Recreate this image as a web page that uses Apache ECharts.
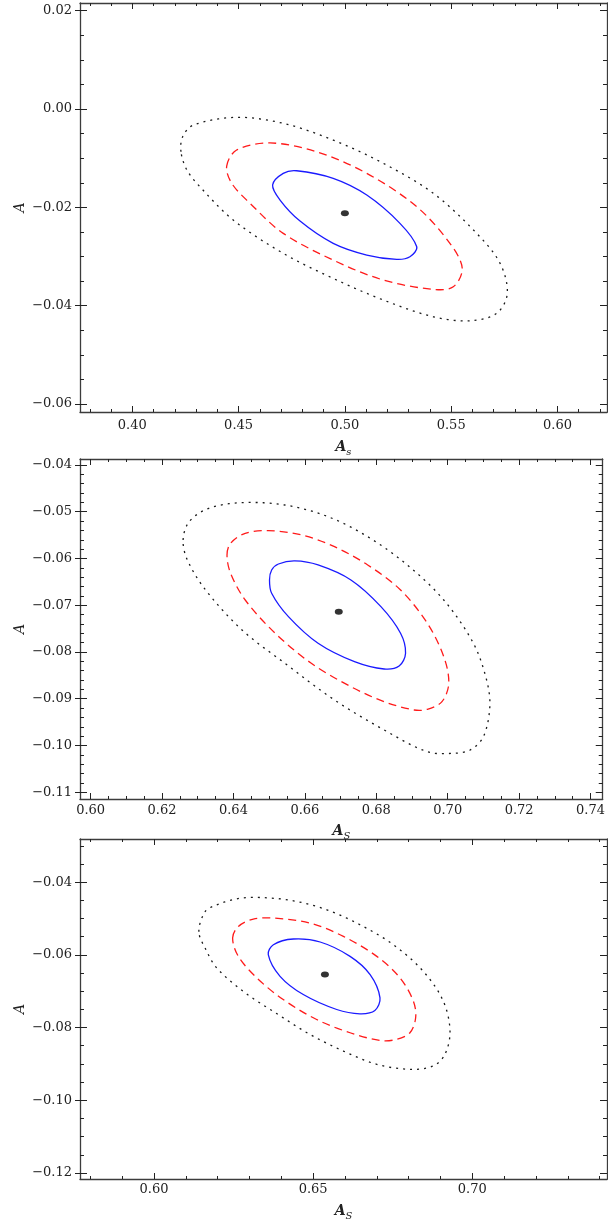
<!DOCTYPE html>
<html>
<head>
<meta charset="utf-8">
<script src="https://cdn.jsdelivr.net/npm/echarts@6/dist/echarts.min.js"></script>
<style>
  html, body { margin: 0; padding: 0; background: #fff; }
  #chart { width: 608px; height: 1222px; }
</style>
</head>
<body>
<div id="chart"></div>
<script>
// ---- panel 1 ----
var p1XTicks = [0.40, 0.45, 0.50, 0.55, 0.60];
var p1YTicks = [0.02, 0.00, -0.02, -0.04, -0.06];
var p1Best = [[0.500, -0.0212]];
var p1Sigma1 = [[0.4660,-0.01546],[0.4710,-0.01308],[0.4773,-0.01255],[0.4945,-0.0141],[0.5103,-0.0175],[0.5259,-0.02325],[0.5338,-0.02802],[0.5306,-0.03005],[0.5244,-0.03058],[0.5103,-0.0297],[0.4945,-0.02732],[0.4789,-0.02279],[0.4695,-0.01851]];
var p1Sigma2 = [[0.4444,-0.0116],[0.4491,-0.00834],[0.4648,-0.0069],[0.4867,-0.00869],[0.5103,-0.01308],[0.5338,-0.01988],[0.5494,-0.02732],[0.5552,-0.0324],[0.5510,-0.03615],[0.5416,-0.03668],[0.5181,-0.03479],[0.4945,-0.03072],[0.4710,-0.02529],[0.4554,-0.01919],[0.4468,-0.01512]];
var p1Sigma3 = [[0.4229,-0.00869],[0.4237,-0.00563],[0.4287,-0.00326],[0.4491,-0.00169],[0.4710,-0.00291],[0.4945,-0.00631],[0.5181,-0.01105],[0.5416,-0.01715],[0.5620,-0.02529],[0.5730,-0.03139],[0.5764,-0.0375],[0.5714,-0.04157],[0.5588,-0.04307],[0.5416,-0.04226],[0.5181,-0.03886],[0.4945,-0.03445],[0.4710,-0.02936],[0.4475,-0.02258],[0.4318,-0.01581],[0.4257,-0.01241]];

// ---- panel 2 ----
var p2XTicks = [0.60, 0.62, 0.64, 0.66, 0.68, 0.70, 0.72, 0.74];
var p2YTicks = [-0.04, -0.05, -0.06, -0.07, -0.08, -0.09, -0.10, -0.11];
var p2Best = [[0.6695, -0.0714]];
var p2Sigma1 = [[0.6501,-0.0646],[0.6507,-0.06246],[0.6526,-0.06118],[0.6572,-0.06053],[0.6637,-0.06139],[0.6729,-0.0646],[0.6813,-0.07031],[0.6868,-0.0760],[0.6882,-0.08028],[0.6864,-0.0830],[0.6822,-0.08364],[0.6739,-0.08207],[0.6637,-0.07814],[0.6554,-0.07245],[0.6507,-0.06744]];
var p2Sigma2 = [[0.6382,-0.05925],[0.6392,-0.05675],[0.6433,-0.05461],[0.6498,-0.05405],[0.6591,-0.05497],[0.6683,-0.05748],[0.6776,-0.06139],[0.6868,-0.06674],[0.6943,-0.07386],[0.6989,-0.0810],[0.7003,-0.0867],[0.6984,-0.09063],[0.6943,-0.09226],[0.6906,-0.09241],[0.6822,-0.09063],[0.6729,-0.08742],[0.6618,-0.08242],[0.6517,-0.0760],[0.6433,-0.06888],[0.6392,-0.06317]];
var p2Sigma3 = [[0.6259,-0.05604],[0.6276,-0.05213],[0.6331,-0.04926],[0.6424,-0.04806],[0.6544,-0.04856],[0.6665,-0.05106],[0.6776,-0.05534],[0.6887,-0.06139],[0.6989,-0.06888],[0.7072,-0.07814],[0.7109,-0.08599],[0.7118,-0.0917],[0.7100,-0.09812],[0.7063,-0.10096],[0.7017,-0.10167],[0.6943,-0.10133],[0.6822,-0.09668],[0.6683,-0.09027],[0.6544,-0.08242],[0.6424,-0.07529],[0.6322,-0.06674],[0.6271,-0.06032]];

// ---- panel 3 ----
var p3XTicks = [0.60, 0.65, 0.70];
var p3YTicks = [-0.04, -0.06, -0.08, -0.10, -0.12];
var p3Best = [[0.6537, -0.0654]];
var p3Sigma1 = [[0.6359,-0.05995],[0.6375,-0.0572],[0.6438,-0.05564],[0.6522,-0.05646],[0.6616,-0.06041],[0.6679,-0.06543],[0.6710,-0.07182],[0.6694,-0.07531],[0.6647,-0.07621],[0.6574,-0.07503],[0.6469,-0.07092],[0.6396,-0.0659]];
var p3Sigma2 = [[0.6247,-0.05536],[0.6265,-0.05218],[0.6312,-0.05015],[0.6375,-0.04988],[0.6490,-0.05125],[0.6595,-0.05492],[0.6700,-0.06041],[0.6773,-0.06634],[0.6815,-0.07276],[0.6822,-0.07731],[0.6804,-0.08143],[0.6762,-0.08327],[0.6710,-0.08354],[0.6616,-0.08143],[0.6511,-0.07778],[0.6406,-0.07229],[0.6323,-0.06634],[0.6265,-0.06041]];
var p3Sigma3 = [[0.6141,-0.05364],[0.6160,-0.04815],[0.6192,-0.04642],[0.6260,-0.04458],[0.6333,-0.04422],[0.6438,-0.04513],[0.6543,-0.0476],[0.6647,-0.05171],[0.6752,-0.0572],[0.6846,-0.06453],[0.6909,-0.07276],[0.6930,-0.08099],[0.6914,-0.08738],[0.6877,-0.09059],[0.6804,-0.0915],[0.6700,-0.09012],[0.6595,-0.08647],[0.6490,-0.08189],[0.6385,-0.07613],[0.6281,-0.0701],[0.6197,-0.06359],[0.6163,-0.05857]];

var FONT = 'DejaVu Serif';
var FRAME = '#3c3c3c';
var TICK = '#222';

function fmt(v) {
  return (v < -1e-9 ? '\u2212' : '') + Math.abs(v).toFixed(2);
}

// minor tick positions between start and end, skipping the labelled ones
function minors(start, end, step, majors) {
  var out = [];
  var n = Math.round((end - start) / step);
  for (var i = 0; i <= n; i++) {
    var v = +(start + i * step).toFixed(4);
    var isMajor = majors.some(function (m) { return Math.abs(m - v) < 1e-6; });
    if (!isMajor) out.push(v);
  }
  return out;
}

function dist(a, b) {
  return Math.sqrt((a[0] - b[0]) * (a[0] - b[0]) + (a[1] - b[1]) * (a[1] - b[1])) || 1;
}

// closed contour: the read points go through the axes with api.coord and are
// joined by a closed cubic path whose tangents are weighted by chord length
function contour(pts, style) {
  return function (params, api) {
    if (params.dataIndex !== 0) return null;
    var P = pts.map(function (p) { return api.coord(p); });
    var n = P.length;
    var T = P.map(function (b, i) {
      var a = P[(i - 1 + n) % n], c = P[(i + 1) % n];
      var s = dist(a, b) + dist(b, c);
      return [(c[0] - a[0]) / s, (c[1] - a[1]) / s];
    });
    var d = 'M' + P[0][0] + ' ' + P[0][1];
    for (var i = 0; i < n; i++) {
      var j = (i + 1) % n;
      var L = dist(P[i], P[j]) / 3;
      d += 'C' + (P[i][0] + T[i][0] * L) + ' ' + (P[i][1] + T[i][1] * L) + ' ' +
        (P[j][0] - T[j][0] * L) + ' ' + (P[j][1] - T[j][1] * L) + ' ' + P[j][0] + ' ' + P[j][1];
    }
    d += 'Z';
    return {
      type: 'path',
      shape: { pathData: d },
      style: Object.assign({ fill: null }, style),
      silent: true
    };
  };
}

var grids = [], xAxes = [], yAxes = [], series = [];

function addPanel(p) {
  var gi = grids.length;
  grids.push({ left: 80, width: 527, top: p.top, height: p.height, containLabel: false });

  var bare = { type: 'value', gridIndex: gi, splitLine: { show: false },
    axisLabel: { show: false }, axisLine: { show: false, onZero: false } };

  function xa(extra) {
    xAxes.push(Object.assign({}, bare, { min: p.xMin, max: p.xMax }, extra));
    return xAxes.length - 1;
  }
  function ya(extra) {
    yAxes.push(Object.assign({}, bare, { min: p.yMin, max: p.yMax }, extra));
    return yAxes.length - 1;
  }
  function tick(vals, len, inside) {
    return { show: true, inside: inside, length: len, customValues: vals,
      lineStyle: { color: TICK, width: 1 } };
  }
  var line = { show: true, onZero: false, lineStyle: { color: FRAME, width: 1.3 } };

  // bottom axis with labels and title
  var xi = xa({
    position: 'bottom',
    axisLine: line,
    axisTick: tick(p.xTicks, 6, true),
    axisLabel: { show: true, customValues: p.xTicks, formatter: fmt, margin: p.xMargin,
      fontFamily: FONT, fontSize: 13, color: TICK },
    name: p.xName, nameLocation: 'middle', nameGap: p.xNameGap,
    nameTextStyle: {
      fontFamily: FONT, color: TICK,
      rich: {
        a: { fontFamily: FONT, fontSize: 14, fontStyle: 'italic', fontWeight: 'bold', color: TICK, verticalAlign: 'top' },
        s: { fontFamily: FONT, fontSize: 10, fontStyle: 'italic', color: TICK, verticalAlign: 'top', padding: [7, 0, 0, 0] }
      }
    }
  });
  xa({ position: 'bottom', axisTick: tick(p.xMinor, 3, true) });
  xa({ position: 'top', axisLine: line, axisTick: tick(p.xTicks, 6, true) });
  xa({ position: 'top', axisTick: tick(p.xMinor, 3, true) });

  // left axis with labels and title
  var yi = ya({
    position: 'left',
    axisLine: line,
    axisTick: tick(p.yTicks, 7, true),
    axisLabel: { show: true, customValues: p.yTicks, formatter: fmt, margin: 8,
      fontFamily: FONT, fontSize: 13, color: TICK },
    name: 'A', nameLocation: 'middle', nameGap: 53, nameMoveOverlap: false,
    nameTextStyle: { fontFamily: FONT, fontSize: 14, fontStyle: 'italic', color: TICK }
  });
  ya({ position: 'left', axisTick: tick(p.yTicks, 5, false) });
  ya({ position: 'left', axisTick: tick(p.yMinor, 4, true) });
  ya({ position: 'right', axisLine: line, axisTick: tick(p.yTicks, 7, true) });
  ya({ position: 'right', axisTick: tick(p.yMinor, 4, true) });

  [
    [p.s3, { stroke: '#1a1a1a', lineWidth: 1.3, lineDash: [2, 5] }],
    [p.s2, { stroke: '#ff1a1a', lineWidth: 1.3, lineDash: [8, 5] }],
    [p.s1, { stroke: '#1a1aff', lineWidth: 1.3 }]
  ].forEach(function (c) {
    series.push({
      type: 'custom', xAxisIndex: xi, yAxisIndex: yi, data: c[0],
      encode: { x: 0, y: 1 }, silent: true,
      renderItem: contour(c[0], c[1])
    });
  });
  series.push({
    type: 'scatter', xAxisIndex: xi, yAxisIndex: yi, data: p.best,
    symbol: 'circle', symbolSize: [8, 6], silent: true,
    itemStyle: { color: '#000' }
  });
}

addPanel({
  top: 3, height: 409,
  xMin: 0.3754, xMax: 0.6233, yMin: -0.06163, yMax: 0.02157,
  xTicks: p1XTicks, yTicks: p1YTicks,
  xMinor: minors(0.38, 0.62, 0.01, p1XTicks), yMinor: minors(-0.06, 0.02, 0.005, p1YTicks),
  xMargin: 7, xNameGap: 28, xName: '{a|A}{s|s}',
  s1: p1Sigma1, s2: p1Sigma2, s3: p1Sigma3, best: p1Best
});

addPanel({
  top: 459, height: 340,
  xMin: 0.59703, xMax: 0.74342, yMin: -0.11145, yMax: -0.03872,
  xTicks: p2XTicks, yTicks: p2YTicks,
  xMinor: minors(0.60, 0.74, 0.005, p2XTicks), yMinor: minors(-0.11, -0.04, 0.002, p2YTicks),
  xMargin: 5, xNameGap: 25, xName: '{a|A}{s|S}',
  s1: p2Sigma1, s2: p2Sigma2, s3: p2Sigma3, best: p2Best
});

addPanel({
  top: 839, height: 341,
  xMin: 0.57675, xMax: 0.74232, yMin: -0.12167, yMax: -0.02812,
  xTicks: p3XTicks, yTicks: p3YTicks,
  xMinor: minors(0.58, 0.74, 0.01, p3XTicks), yMinor: minors(-0.12, -0.03, 0.005, p3YTicks),
  xMargin: 4, xNameGap: 25, xName: '{a|A}{s|S}',
  s1: p3Sigma1, s2: p3Sigma2, s3: p3Sigma3, best: p3Best
});

var chart = echarts.init(document.getElementById('chart'), null, { renderer: 'canvas' });
chart.setOption({
  backgroundColor: '#ffffff',
  animation: false,
  grid: grids,
  xAxis: xAxes,
  yAxis: yAxes,
  series: series
});
</script>
</body>
</html>
